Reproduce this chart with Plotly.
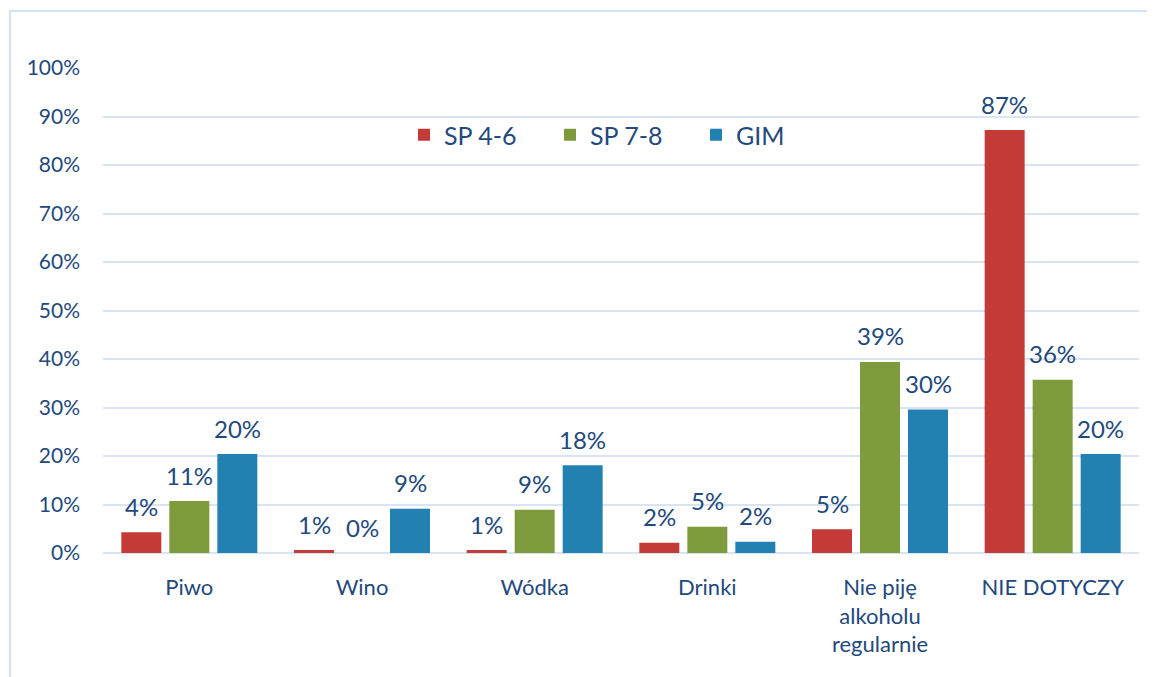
import plotly.graph_objects as go

categories = ["Piwo", "Wino", "Wódka", "Drinki", "Nie piję<br>alkoholu<br>regularnie", "NIE DOTYCZY"]
series_names = ["SP 4-6", "SP 7-8", "GIM"]
sp46 = [4.3, 0.6, 0.6, 2.1, 4.9, 87.2]
sp78 = [10.7, 0.0, 8.9, 5.4, 39.4, 35.7]
gim = [20.4, 9.1, 18.1, 2.3, 29.6, 20.4]
colors = ["#c43a37", "#7d9b3d", "#2281b0"]
tick_vals = [0, 10, 20, 30, 40, 50, 60, 70, 80, 90, 100]
tick_text = [f"{v}%" for v in tick_vals]

TXT = "#23497c"
FONT = "Lato"

W, H = 1155, 677
OFF = 8  # page body margin
L, R, T, B = 95, 24, 60, 132
pw = W - L - R
ph = H - T - B


def px_x(p):
    return (p - OFF - L) / pw


def px_y(p):
    return (H - B - (p - OFF)) / ph


fig = go.Figure()
series = [sp46, sp78, gim]
for name, vals, col in zip(series_names, series, colors):
    fig.add_trace(go.Bar(
        x=categories, y=vals, name=name,
        marker=dict(color=col, line=dict(width=0)),
    ))

# data labels above bars
slot_px = 48
for i, vals in enumerate(series):
    for cat, v in zip(categories, vals):
        fig.add_annotation(x=cat, y=v, xref="x", yref="y",
                           text=f"{round(v)}%", showarrow=False,
                           xshift=(i - 1) * slot_px, yshift=26,
                           yanchor="middle", xanchor="center",
                           font=dict(family=FONT, size=24, color=TXT))

fig.add_shape(type="rect", xref="paper", yref="paper",
              x0=px_x(10), x1=px_x(1180), y0=px_y(700), y1=px_y(11),
              line=dict(color="#d4e1f3", width=2), fillcolor="rgba(0,0,0,0)", layer="below")

fig.update_layout(
    width=W, height=H,
    margin=dict(l=L, r=R, t=T, b=B, autoexpand=False),
    paper_bgcolor="white", plot_bgcolor="white",
    barmode="group", bargap=0.166, bargroupgap=0.167,
    font=dict(family=FONT, color=TXT, size=20),
    legend=dict(orientation="h", x=px_x(623), xanchor="center", y=px_y(135), yanchor="middle",
                font=dict(family=FONT, size=25, color=TXT),
                entrywidth=101, entrywidthmode="pixels", bgcolor="rgba(0,0,0,0)"),
    xaxis=dict(showgrid=False, showline=False, ticks="", ticklabelstandoff=19,
               tickfont=dict(family=FONT, size=22, color=TXT)),
    yaxis=dict(range=[0, 100], tickvals=tick_vals, ticktext=tick_text,
               showgrid=True, gridcolor="#d9e4f3", gridwidth=2,
               zeroline=True, zerolinecolor="#d9e4f3", zerolinewidth=2,
               showline=False, ticks="", ticklabelstandoff=22,
               tickfont=dict(family=FONT, size=21, color=TXT)),
)

fig.write_html("out.html")
